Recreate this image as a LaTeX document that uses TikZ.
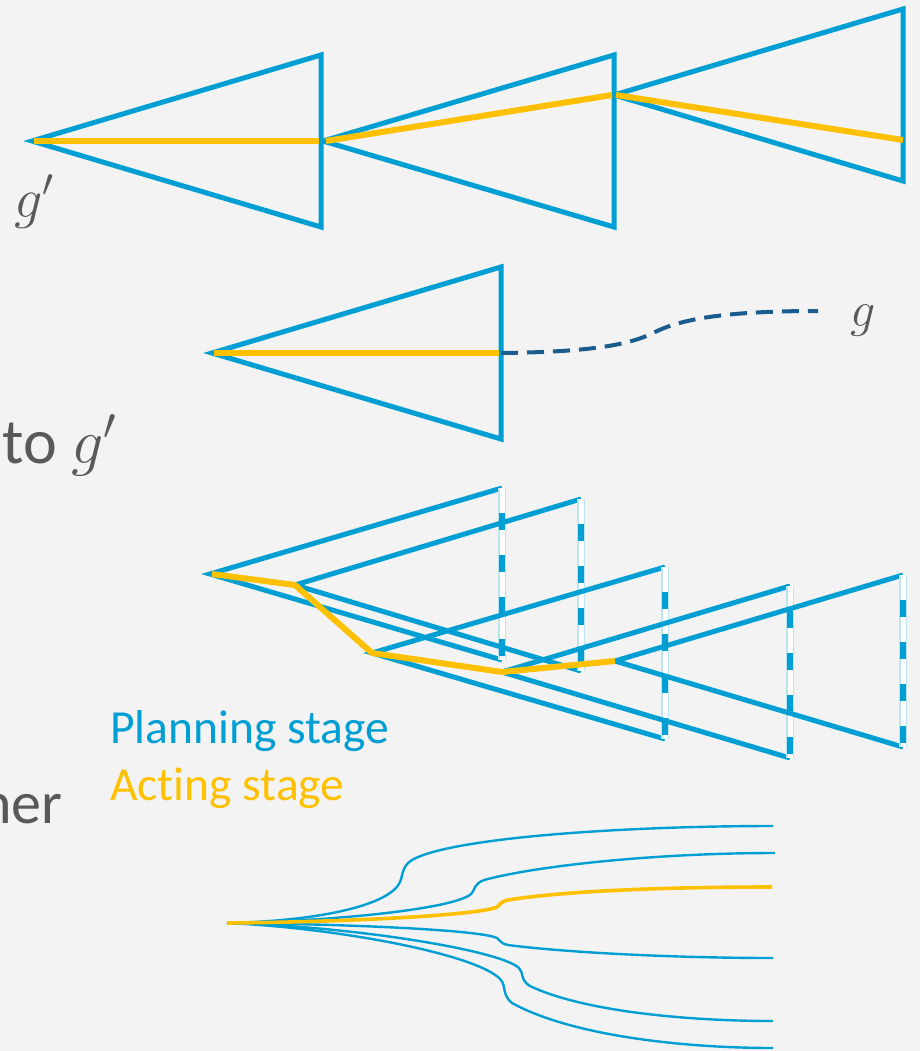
\RequirePackage{fix-cm}
\documentclass[tikz,border=0pt]{standalone}
\usepackage{fontspec}
\setmainfont{Carlito}[Ligatures=NoCommon]
\definecolor{bg}{HTML}{F3F3F3}
\definecolor{pblue}{HTML}{009FD3}
\definecolor{ayel}{HTML}{FFC000}
\definecolor{dblue}{HTML}{1B5C8E}
\definecolor{tgray}{HTML}{595959}
\definecolor{lblue}{HTML}{BDE4F2}
\begin{document}
\begin{tikzpicture}[x=1pt,y=-1pt,
  tri/.style={draw=pblue,line width=5pt,line join=miter},
  act/.style={draw=ayel,line width=6pt},
  actthin/.style={draw=ayel,line width=3.6pt},
  branch/.style={draw=pblue,line width=2.4pt},
  sidebox/.style={draw=lblue,line width=1.2pt,double=white,double distance=5pt},
  sidedash/.style={draw=pblue,line width=5.5pt,dash pattern=on 17pt off 25pt,dash phase=17pt},
  goalpath/.style={draw=dblue,line width=4pt,dash pattern=on 17pt off 9pt},
  lbl/.style={inner sep=0pt,anchor=base west,text=tgray}]
\fill[bg] (0,0) rectangle (920,1051);
\clip (0,0) rectangle (920,1051);

% ---------- top diagram ----------
\coordinate (t1) at (32,141);
\coordinate (t2) at (323,141);
\coordinate (t3) at (614,95);
\coordinate (t3e) at (903,140);
\draw[tri] (321,55) -- (t1) -- (321,227) -- cycle;
\draw[tri] (614,55) -- (t2) -- (614,227) -- cycle;
\draw[tri] (903,9) -- (t3) -- (903,181) -- cycle;
\draw[act] ([xshift=2pt]t1) -- (319,141);
\draw[act] ([xshift=3pt]t2) -- ([xshift=-2pt]t3);
\draw[act] ([xshift=2pt]t3) -- (t3e);
\node[lbl,font=\fontsize{56}{60}\selectfont] (gp1) at (14,217) {$g'$};

% ---------- second diagram ----------
\coordinate (s1) at (212,353);
\coordinate (s1e) at (501,353);
\coordinate (gend) at (818,311);
\draw[tri] (501,267) -- (s1) -- (501,439) -- cycle;
\draw[act] ([xshift=2pt]s1) -- ([xshift=-2pt]s1e);
\draw[goalpath] (s1e) .. controls (590,352) and (630,345) .. (655,332)
  .. controls (680,320) and (720,311) .. (gend);
\node[lbl,font=\fontsize{50}{56}\selectfont] (g) at (850,326) {$g$};

\node[lbl,font=\fontsize{64}{70}\selectfont] (to) at (2,463) {to $g'$};

% ---------- third diagram ----------
\coordinate (a) at (210,574);
\coordinate (b) at (295,585);
\coordinate (c) at (372,653);
\coordinate (d) at (502,672);
\coordinate (e) at (615,661);
% A
\draw[tri] (502,488) -- (a) -- (502,660);
\draw[sidebox] (502,488) -- (502,660);
\draw[sidedash] (502,488) -- (502,660);
% B
\draw[tri] (581,499) -- (b) -- (581,671);
\draw[sidebox] (581,499) -- (581,671);
\draw[sidedash] (581,499) -- (581,671);
% C
\draw[tri] (665,567) -- (c) -- (665,739);
\draw[sidebox] (665,567) -- (665,739);
\draw[sidedash] (665,567) -- (665,739);
% D
\draw[tri] (790,586) -- (d) -- (790,758);
\draw[sidebox] (790,586) -- (790,758);
\draw[sidedash] (790,586) -- (790,758);
% E
\draw[tri] (903,575) -- (e) -- (903,747);
\draw[sidebox] (903,575) -- (903,747);
\draw[sidedash] (903,575) -- (903,747);
\draw[act,line join=round] ([xshift=2pt]a) -- (b) -- (c) -- (d) -- (e);

\node[lbl,text=pblue,font=\fontsize{47.5}{52}\selectfont] (plan) at (110,743) {Planning stage};
\node[lbl,text=ayel,font=\fontsize{47.5}{52}\selectfont] (actl) at (110,800) {Acting stage};
\node[lbl,font=\fontsize{60}{66}\selectfont] (her) at (-20,823) {her};

% ---------- bottom diagram ----------
\coordinate (r) at (227,923);
\draw[branch] (r) .. controls (320,921) and (390,905) .. (400,882)
  .. controls (403,875) and (402,866) .. (412,860)
  .. controls (450,838) and (620,826) .. (773,826);
\draw[branch] (r) .. controls (340,921) and (460,908) .. (472,893)
  .. controls (475,889) and (474,884) .. (484,880)
  .. controls (540,865) and (660,853) .. (775,853);
\draw[branch] (r) .. controls (350,924) and (480,930) .. (497,938)
  .. controls (501,940) and (499,943) .. (508,945)
  .. controls (570,953) and (680,958) .. (773,958);
\draw[branch] (r) .. controls (350,926) and (500,950) .. (519,968)
  .. controls (524,973) and (520,980) .. (530,986)
  .. controls (580,1010) and (680,1021) .. (773,1021);
\draw[branch] (r) .. controls (340,928) and (480,955) .. (501,980)
  .. controls (506,986) and (502,995) .. (512,1003)
  .. controls (570,1035) and (680,1048) .. (773,1048);
\draw[actthin] (r) .. controls (350,922) and (480,915) .. (497,907)
  .. controls (501,905) and (499,902) .. (508,900)
  .. controls (570,890) and (680,887) .. (772,887);
\end{tikzpicture}
\end{document}
